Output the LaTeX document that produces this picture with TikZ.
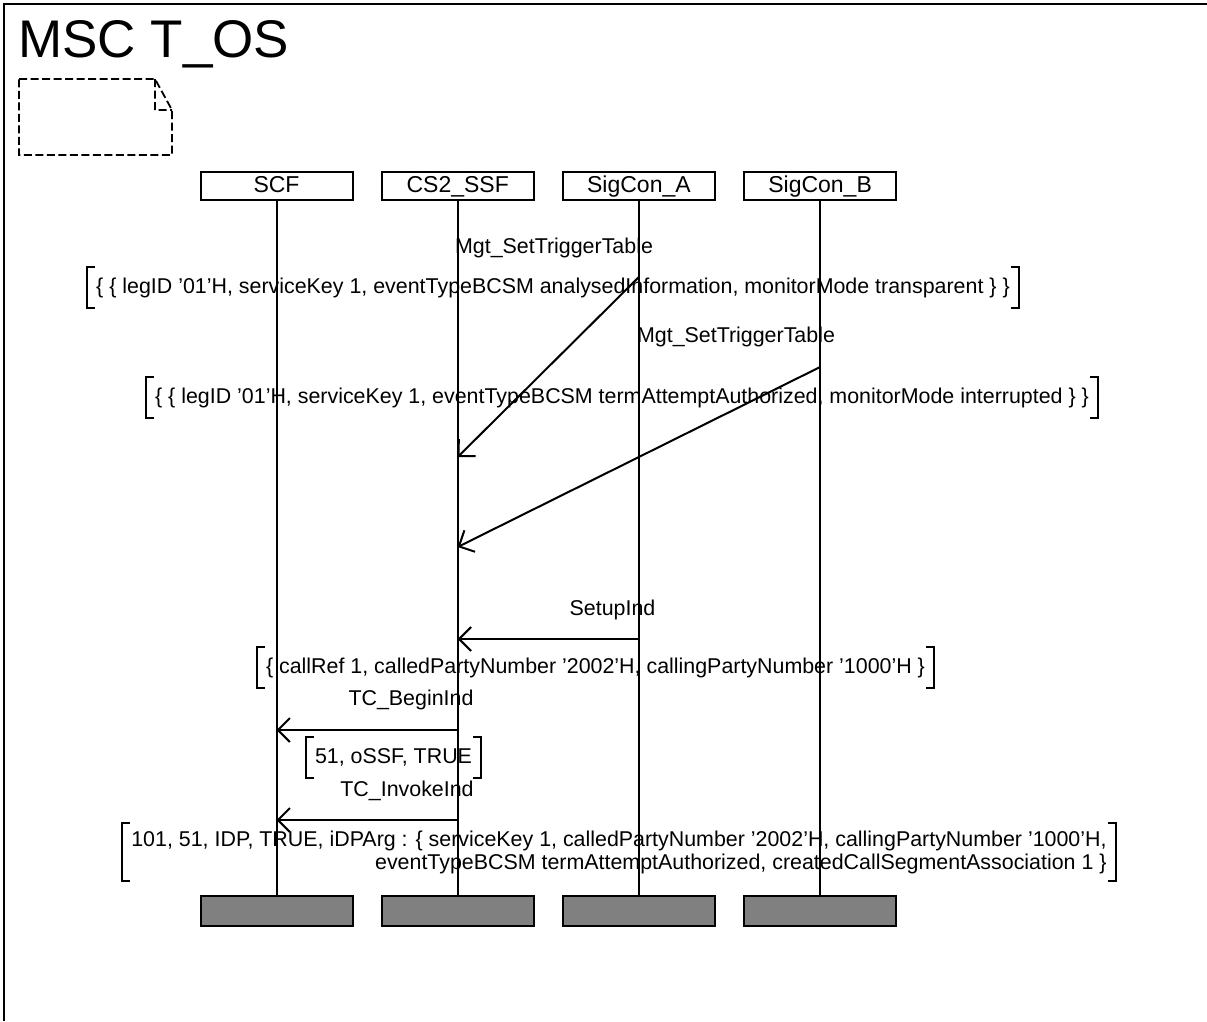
\documentclass[tikz,border=0pt]{standalone}
\usepackage{fontspec}
\setmainfont{Liberation Sans}
\usetikzlibrary{arrows.meta}
\tikzset{
  inst/.style={draw,line width=2pt,minimum width=152pt,minimum height=28pt,inner sep=0pt,text height=16pt,text depth=4pt,font=\fontsize{23}{25}\selectfont},
  instend/.style={draw,line width=2pt,fill=gray,minimum width=152pt,minimum height=30pt,inner sep=0pt},
  msg/.style={line width=2pt,-{Straight Barb[length=12pt,width=24pt]}},
  lbl/.style={anchor=base,inner sep=0pt,font=\fontsize{21.4}{23}\selectfont},
  param/.style={inner xsep=9pt,inner ysep=0pt,minimum height=41pt,font=\fontsize{21.4}{23}\selectfont}
}
\begin{document}
\begin{tikzpicture}[x=1pt,y=-1pt]
      \useasboundingbox (0,0) rectangle (1207,1021);
      \draw[line width=2.6pt] (4,1021) -- (4,4) -- (1207,4);
      \node[anchor=base west,inner sep=0pt,font=\fontsize{53}{57}\selectfont] (title) at (18,57) {MSC T\_OS};
      \draw[line width=1.8pt,dash pattern=on 8pt off 3.5pt]
        (19,79) -- (155,79) -- (172,110) -- (172,155) -- (19,155) -- cycle
        (155,79) -- (155,110) -- (172,110);
      \draw
        (276.5,186) node[inst] (scf){SCF}
        (457.7,186) node[inst] (ssf){CS2\_SSF}
        (638.9,186) node[inst] (siga){SigCon\_A}
        (820.1,186) node[inst] (sigb){SigCon\_B}
        (276.5,911) node[instend] (scfe){}
        (457.7,911) node[instend] (ssfe){}
        (638.9,911) node[instend] (sigae){}
        (820.1,911) node[instend] (sigbe){};
      \begin{scope}[line width=2pt]
        \draw (scf) to (scfe);
        \draw (ssf) to (ssfe);
        \draw (siga) to (sigae);
        \draw (sigb) to (sigbe);
      \end{scope}
      \coordinate (m1a) at (638.9,277);
      \coordinate (m1b) at (457.7,457);
      \coordinate (m2a) at (820.1,367);
      \coordinate (m2b) at (457.7,547);
      \coordinate (m3a) at (638.9,639);
      \coordinate (m3b) at (457.7,639);
      \coordinate (m4a) at (457.7,730);
      \coordinate (m4b) at (276.5,730);
      \coordinate (m5a) at (457.7,820);
      \coordinate (m5b) at (276.5,820);
      \begin{scope}[msg]
        \draw (m1a) to (m1b);
        \draw (m2a) to (m2b);
        \draw (m3a) to (m3b);
        \draw (m4a) to (m4b);
        \draw (m5a) to (m5b);
      \end{scope}
      \node[lbl] (l1) at (554,253) {Mgt\_SetTriggerTable};
      \node[lbl] (l2) at (736,342) {Mgt\_SetTriggerTable};
      \node[lbl] (l3) at (612.5,615) {SetupInd};
      \node[lbl] (l4) at (411,705) {TC\_BeginInd};
      \node[lbl] (l5) at (407,796) {TC\_InvokeInd};
      \node[param] (p1) at (553,287.5) {\{ \{ legID '01'H, serviceKey 1, eventTypeBCSM analysedInformation, monitorMode transparent \} \}};
      \node[param] (p2) at (622,397.5) {\{ \{ legID '01'H, serviceKey 1, eventTypeBCSM termAttemptAuthorized, monitorMode interrupted \} \}};
      \node[param] (p3) at (595.5,667.5) {\{ callRef 1, calledPartyNumber '2002'H, callingPartyNumber '1000'H \}};
      \node[param] (p4) at (393.5,757.5) {51, oSSF, TRUE};
      \node[param,minimum height=58pt,align=right] (p5) at (619,852) {101, 51, IDP, TRUE, iDPArg : \{ serviceKey 1, calledPartyNumber '2002'H, callingPartyNumber '1000'H,\\eventTypeBCSM termAttemptAuthorized, createdCallSegmentAssociation 1 \}};
      \foreach \p in {p1,p2,p3,p4,p5} {
        \draw[line width=2pt] ([xshift=8pt]\p.north west) -- (\p.north west) -- (\p.south west) -- ([xshift=8pt]\p.south west);
        \draw[line width=2pt] ([xshift=-8pt]\p.north east) -- (\p.north east) -- (\p.south east) -- ([xshift=-8pt]\p.south east);
      }
    \end{tikzpicture}
\end{document}
